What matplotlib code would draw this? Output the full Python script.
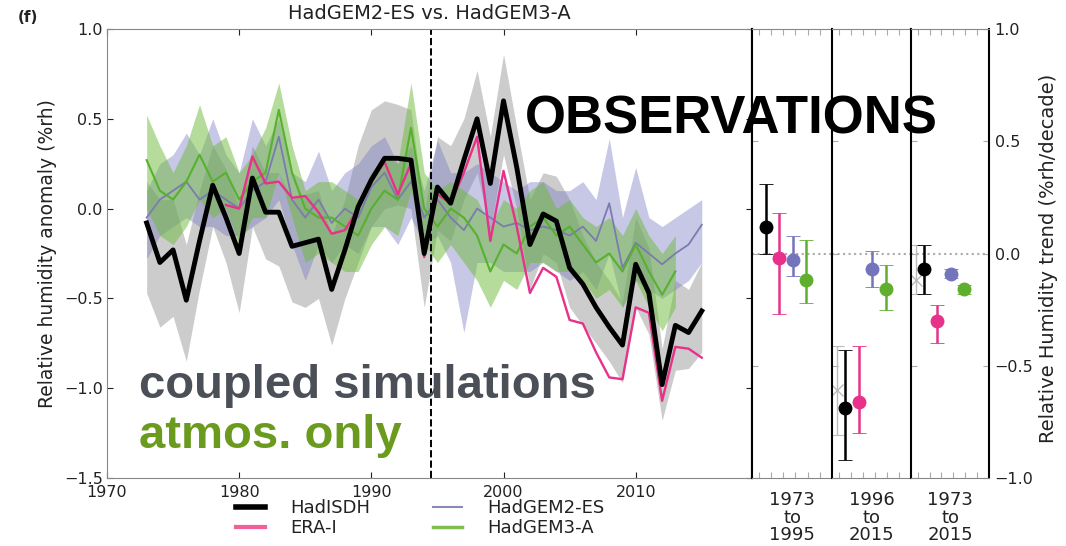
import numpy as np
import matplotlib.pyplot as plt
from matplotlib.lines import Line2D

# time series
years = np.arange(1973, 2016)
hadisdh = [-0.08, -0.30, -0.23, -0.51, -0.18, 0.13, -0.05, -0.25, 0.17, -0.02,
           -0.02, -0.21, -0.19, -0.17, -0.45, -0.23, 0.01, 0.16, 0.28, 0.28,
           0.27, -0.25, 0.12, 0.03, 0.27, 0.50, 0.14, 0.60, 0.23, -0.20,
           -0.03, -0.07, -0.33, -0.42, -0.55, -0.66, -0.76, -0.31, -0.47, -0.98,
           -0.65, -0.69, -0.57]
hadisdh_lo = [-0.47, -0.66, -0.60, -0.85, -0.45, -0.10, -0.30, -0.58, -0.10, -0.28,
              -0.32, -0.52, -0.55, -0.50, -0.76, -0.50, -0.30, -0.10, 0.00, 0.02,
              0.00, -0.55, -0.12, -0.18, 0.05, 0.20, -0.12, 0.30, 0.00, -0.45,
              -0.25, -0.30, -0.55, -0.65, -0.75, -0.85, -0.97, -0.55, -0.70, -1.18,
              -0.90, -0.89, -0.80]
hadisdh_hi = [0.15, 0.05, 0.05, -0.20, 0.10, 0.35, 0.22, 0.00, 0.35, 0.20,
              0.20, 0.05, 0.08, 0.10, -0.15, 0.05, 0.35, 0.55, 0.60, 0.58,
              0.55, -0.02, 0.40, 0.35, 0.50, 0.77, 0.40, 0.86, 0.45, 0.05,
              0.20, 0.18, 0.05, -0.15, -0.30, -0.40, -0.52, -0.05, -0.22, -0.78,
              -0.40, -0.45, -0.30]

era_years = np.arange(1979, 2016)
era = [0.02, 0.00, 0.29, 0.14, 0.15, 0.06, 0.07, -0.02, -0.14, -0.12,
       0.00, 0.15, 0.26, 0.08, 0.25, -0.27, 0.08, 0.03, 0.20, 0.40,
       -0.18, 0.21, -0.10, -0.47, -0.33, -0.38, -0.62, -0.64, -0.80, -0.94,
       -0.95, -0.55, -0.58, -1.07, -0.77, -0.78, -0.83]

gem2 = [-0.05, 0.05, 0.10, 0.15, 0.05, 0.10, 0.05, 0.00, 0.10, 0.15,
        0.40, 0.05, -0.05, 0.05, -0.08, 0.00, -0.05, 0.12, 0.20, 0.05,
        0.15, -0.05, 0.05, -0.05, -0.12, 0.00, -0.05, -0.10, -0.08, -0.12,
        -0.10, -0.12, -0.15, -0.10, -0.18, 0.03, -0.33, -0.19, -0.25, -0.31,
        -0.25, -0.20, -0.09]
gem2_lo = [-0.28, -0.15, -0.10, -0.05, -0.10, -0.10, -0.15, -0.15, -0.10, -0.05,
           0.05, -0.20, -0.40, -0.20, -0.30, -0.20, -0.25, -0.10, -0.10, -0.20,
           -0.05, -0.20, -0.15, -0.30, -0.69, -0.30, -0.30, -0.35, -0.35, -0.35,
           -0.30, -0.35, -0.40, -0.35, -0.45, -0.25, -0.55, -0.40, -0.45, -0.50,
           -0.45, -0.40, -0.30]
gem2_hi = [0.10, 0.25, 0.30, 0.42, 0.30, 0.50, 0.30, 0.20, 0.50, 0.35,
           0.50, 0.20, 0.15, 0.32, 0.10, 0.20, 0.25, 0.35, 0.40, 0.25,
           0.35, 0.10, 0.38, 0.20, 0.20, 0.25, 0.20, 0.15, 0.10, 0.15,
           0.15, 0.10, 0.10, 0.15, 0.05, 0.39, -0.05, 0.23, -0.05, -0.10,
           -0.05, 0.00, 0.05]

gem3_years = np.arange(1973, 2014)
gem3 = [0.27, 0.10, 0.05, 0.15, 0.30, 0.15, 0.20, 0.05, 0.15, 0.20,
        0.55, 0.20, 0.00, -0.05, -0.05, -0.10, -0.15, 0.00, 0.10, 0.05,
        0.45, 0.00, -0.10, 0.00, -0.05, -0.15, -0.35, -0.20, -0.25, -0.10,
        -0.05, -0.15, -0.10, -0.20, -0.30, -0.25, -0.35, -0.20, -0.35, -0.48,
        -0.35]
gem3_lo = [0.00, -0.15, -0.20, -0.10, 0.05, -0.05, 0.00, -0.20, -0.05, -0.05,
           0.20, -0.05, -0.30, -0.25, -0.30, -0.35, -0.35, -0.20, -0.10, -0.15,
           0.10, -0.20, -0.30, -0.20, -0.30, -0.40, -0.55, -0.40, -0.45, -0.30,
           -0.30, -0.35, -0.35, -0.40, -0.50, -0.45, -0.55, -0.40, -0.55, -0.68,
           -0.55]
gem3_hi = [0.52, 0.35, 0.20, 0.35, 0.58, 0.35, 0.40, 0.20, 0.30, 0.45,
           0.70, 0.35, 0.10, 0.15, 0.15, 0.10, 0.05, 0.20, 0.30, 0.25,
           0.70, 0.20, 0.10, 0.15, 0.10, 0.05, -0.10, 0.05, 0.00, 0.10,
           0.15, 0.00, 0.05, -0.05, -0.10, -0.05, -0.15, 0.00, -0.15, -0.25,
           -0.15]

# trends per period (%rh/decade)
periods = ['1973\nto\n1995', '1996\nto\n2015', '1973\nto\n2015']
tr_hadisdh = [0.12, -0.69, -0.07]
tr_hadisdh_lo = [0.00, -0.92, -0.18]
tr_hadisdh_hi = [0.31, -0.43, 0.04]
tr_era = [-0.02, -0.66, -0.30]
tr_era_lo = [-0.27, -0.80, -0.40]
tr_era_hi = [0.18, -0.41, -0.23]
tr_gem2 = [-0.03, -0.07, -0.09]
tr_gem2_lo = [-0.10, -0.15, -0.11]
tr_gem2_hi = [0.08, 0.01, -0.07]
tr_gem3 = [-0.12, -0.16, -0.16]
tr_gem3_lo = [-0.22, -0.25, -0.18]
tr_gem3_hi = [0.06, -0.05, -0.14]
# faint grey alternative HadISDH estimate
tr_alt = [None, -0.61, -0.12]
tr_alt_lo = [None, -0.81, -0.18]
tr_alt_hi = [None, -0.41, 0.04]

c_black = 'black'
c_pink = '#e8318a'
c_purple = '#7474bd'
c_green = '#5fae2e'

fig = plt.figure(figsize=(10.66, 5.46), dpi=100)
W, H = 1066, 546
y0, y1 = 1 - 478 / H, 1 - 29 / H

ax = fig.add_axes([107 / W, y0, (752 - 107) / W, y1 - y0])
ax.fill_between(years, hadisdh_lo, hadisdh_hi, color='#9a9a9a', alpha=0.5, lw=0)
ax.fill_between(years, gem2_lo, gem2_hi, color='#7a7ac4', alpha=0.42, lw=0)
ax.fill_between(gem3_years, gem3_lo, gem3_hi, color='#6cbb38', alpha=0.5, lw=0)
ax.plot(years, gem2, color='#7b7bb0', lw=1.3)
ax.plot(gem3_years, gem3, color='#58b030', lw=1.5)
ax.plot(era_years, era, color=c_pink, lw=1.7)
ax.plot(years, hadisdh, color=c_black, lw=3.5)
ax.axvline(1994.5, color='black', ls='--', lw=1.4)
ax.set_xlim(1970, 2018.8)
ax.set_ylim(-1.5, 1.0)
ax.set_xticks([1970, 1980, 1990, 2000, 2010])
ax.set_yticks([-1.5, -1.0, -0.5, 0.0, 0.5, 1.0])
ax.tick_params(direction='in', top=True, right=True, labelsize=11.5,
               colors='#222222', length=4)
ax.tick_params(axis='x', pad=5)
ax.tick_params(axis='y', pad=3)
for s in ['left', 'top', 'bottom']:
    ax.spines[s].set_color('#888888')
ax.spines['right'].set_color('black')
ax.spines['right'].set_linewidth(1.5)
ax.set_ylabel('Relative humidity anomaly (%rh)', fontsize=13.5, color='#222222', labelpad=5)
ax.set_title('HadGEM2-ES vs. HadGEM3-A', fontsize=14, color='#222222', pad=7)

# trend panels
edges = [752, 832, 911, 989]
series = [(tr_hadisdh, tr_hadisdh_lo, tr_hadisdh_hi, c_black),
          (tr_era, tr_era_lo, tr_era_hi, c_pink),
          (tr_gem2, tr_gem2_lo, tr_gem2_hi, c_purple),
          (tr_gem3, tr_gem3_lo, tr_gem3_hi, c_green)]
for i in range(3):
    pax = fig.add_axes([edges[i] / W, y0, (edges[i + 1] - edges[i]) / W, y1 - y0])
    pax.set_xlim(0, 5.9)
    pax.set_ylim(-1.0, 1.0)
    pax.axhline(0, color='#aaaaaa', ls=':', lw=1.5, zorder=0)
    if tr_alt[i] is not None:
        pax.errorbar(0.35, tr_alt[i],
                     yerr=[[tr_alt[i] - tr_alt_lo[i]], [tr_alt_hi[i] - tr_alt[i]]],
                     fmt='x', color='#bbbbbb', ms=9, elinewidth=1, capsize=5, capthick=0.8)
    for k, (v, lo, hi, c) in enumerate(series):
        pax.errorbar(k + 1, v[i], yerr=[[v[i] - lo[i]], [hi[i] - v[i]]],
                     fmt='o', color=c, ms=9, elinewidth=1.8, capsize=5, capthick=0.6,
                     ecolor=c)
    pax.set_xticks(np.arange(0.5, 5.9, 0.9))
    pax.set_xticklabels([])
    pax.set_yticks([-1.0, -0.5, 0.0, 0.5, 1.0])
    pax.tick_params(direction='in', top=True, length=4, colors='#aaaaaa',
                    labelleft=False, labelcolor='#222222', labelsize=11.5)
    for s in ['top', 'bottom']:
        pax.spines[s].set_color('#888888')
    pax.spines['left'].set_color('black')
    pax.spines['left'].set_linewidth(1.5)
    pax.spines['right'].set_visible(i == 2)
    pax.spines['right'].set_color('black')
    pax.spines['right'].set_linewidth(1.5)
    pax.text(0.5, -0.03, periods[i], transform=pax.transAxes, ha='center', va='top',
             fontsize=13, color='#222222', linespacing=0.95)
    if i == 2:
        pax.yaxis.set_label_position('right')
        pax.tick_params(right=True, labelright=True, pad=4)
        pax.set_ylabel('Relative Humidity trend (%rh/decade)', fontsize=14,
                       color='#222222')
        pax.yaxis.set_label_coords(1.64, 0.49)

fig.text(18 / W, 1 - 18 / H, '(f)', fontsize=11, fontweight='bold', color='#222222',
         va='center')

handles = [Line2D([], [], color=c_black, lw=4),
           Line2D([], [], color='#f0609a', lw=3),
           Line2D([], [], color='#8a8ab8', lw=1.5),
           Line2D([], [], color='#7cbf50', lw=2.5)]
labels = ['HadISDH', 'ERA-I', 'HadGEM2-ES', 'HadGEM3-A']
fig.legend(handles, labels, ncol=2, loc='upper left', bbox_to_anchor=(222 / W, 1 - 485 / H),
           frameon=False, fontsize=13, handlelength=1.6, handletextpad=1.4,
           columnspacing=3.45, labelspacing=0.1, borderpad=0.3,
           labelcolor='#222222')

big = dict(family=['Liberation Sans', 'DejaVu Sans'], fontweight='bold', va='baseline')
fig.text(525 / W, 1 - 133 / H, 'OBSERVATIONS', fontsize=38, color='black', **big)
fig.text(139 / W, 1 - 398 / H, 'coupled simulations', fontsize=34, color='#4b4f57', **big)
fig.text(139 / W, 1 - 448 / H, 'atmos. only', fontsize=34, color='#6b9b1e', **big)

fig.savefig('out.png', dpi=100)
